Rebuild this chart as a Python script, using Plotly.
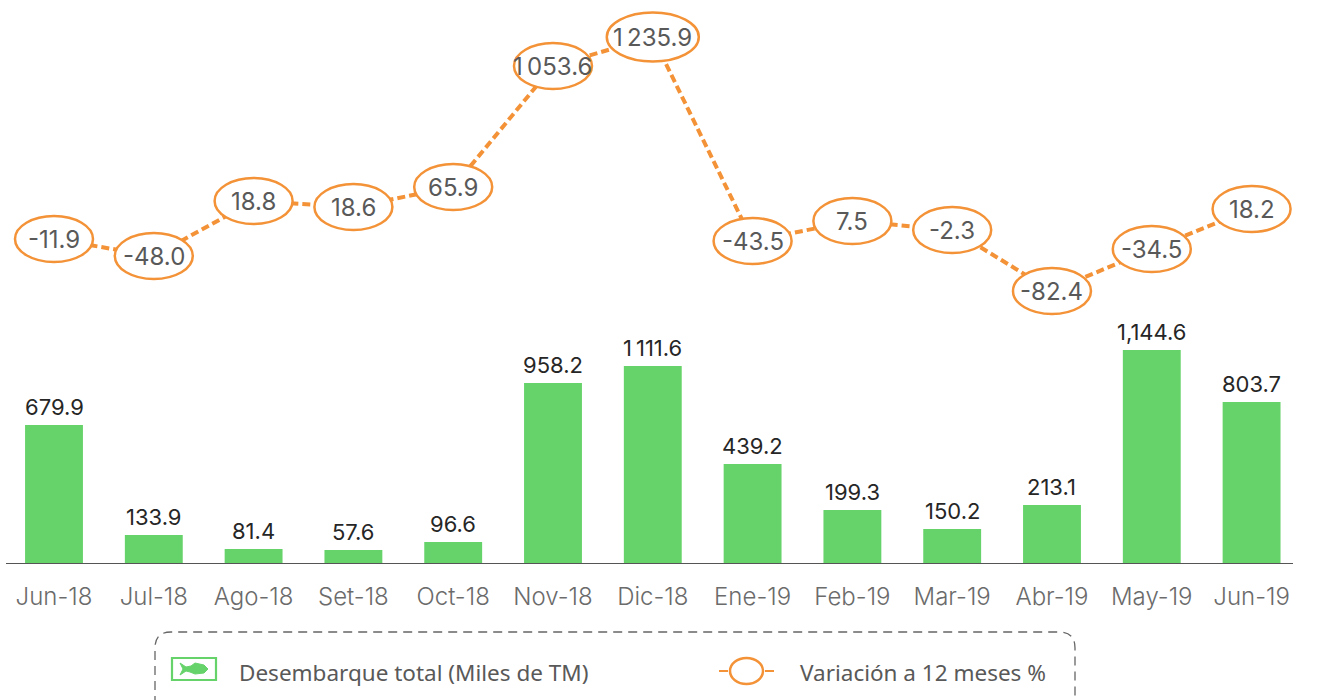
import plotly.graph_objects as go

categories = ["Jun-18", "Jul-18", "Ago-18", "Set-18", "Oct-18", "Nov-18", "Dic-18",
              "Ene-19", "Feb-19", "Mar-19", "Abr-19", "May-19", "Jun-19"]
bar_labels = ["679.9", "133.9", "81.4", "57.6", "96.6", "958.2", "1\u2009111.6",
              "439.2", "199.3", "150.2", "213.1", "1,144.6", "803.7"]
# Bar heights and line levels as drawn in the picture (the drawing is not to scale with its labels)
bar_heights = [138, 28, 14, 13, 21, 180, 197, 99, 53, 34, 58, 213, 161]
line_labels = ["-11.9", "-48.0", "18.8", "18.6", "65.9", "1\u2009053.6", "1\u2009235.9",
               "-43.5", "7.5", "-2.3", "-82.4", "-34.5", "18.2"]
line_levels = [324, 307, 362, 356, 376, 497, 526, 322, 342, 333, 272, 314, 354]

GREEN = "#66D36A"
ORANGE = "#F39237"
GREY = "#595959"
FONT = "Inter"
W, H = 1317, 700
L, R, T, B = 6, 24, 0, 137
PW, PH = W - L - R, H - T - B


def px(x):
    return (x - L) / PW


def py(y):
    return (H - B - y) / PH


fig = go.Figure()
fig.add_bar(x=categories, y=bar_heights, name="Desembarque total (Miles de TM)",
            marker=dict(color=GREEN, line_width=0), width=0.58)
fig.add_scatter(x=categories, y=line_levels, mode="lines", name="Variación a 12 meses %",
                line=dict(color=ORANGE, width=4, dash="8px,4px"))

shapes = []
annotations = []
for c, h, lab in zip(categories, bar_heights, bar_labels):
    annotations.append(dict(x=c, y=h, xref="x", yref="y", text=lab, showarrow=False,
                            yanchor="bottom", yshift=3,
                            font=dict(family=FONT, size=22, color="#262626", weight=400)))
for c, lv, lab in zip(categories, line_levels, line_labels):
    half_w, half_h = (46, 24.5) if lab == line_labels[6] else (39, 23)
    shapes.append(dict(type="circle", xref="x", yref="y", xsizemode="pixel", ysizemode="pixel",
                       xanchor=c, yanchor=lv, x0=-half_w, x1=half_w, y0=-half_h, y1=half_h,
                       fillcolor="white", line=dict(color=ORANGE, width=2.5), layer="above"))
    annotations.append(dict(x=c, y=lv, xref="x", yref="y", text=lab, showarrow=False,
                            font=dict(family=FONT, size=24, color=GREY)))

# legend frame, cut by the bottom of the picture
x0, x1, y0, y1, r = px(155), px(1075), py(632), py(720), 16
rx, ry = r / PW, r / PH
shapes.append(dict(type="path", xref="paper", yref="paper",
                   path=f"M {x0} {y1} L {x0} {y0-ry} Q {x0} {y0} {x0+rx} {y0} L {x1-rx} {y0} "
                        f"Q {x1} {y0} {x1} {y0-ry} L {x1} {y1}",
                   line=dict(color="#666666", width=1.3, dash="9px,6px")))
# legend icons
shapes.append(dict(type="rect", xref="paper", yref="paper", x0=px(172), x1=px(216), y0=py(658), y1=py(680),
                   line=dict(color=GREEN, width=2.2)))
fish = [(180, 663), (186, 667), (191, 666), (195, 663), (204, 665), (208, 669), (204, 673),
        (195, 674), (190, 672), (186, 671), (180, 675), (183, 669)]
shapes.append(dict(type="path", xref="paper", yref="paper",
                   path="M " + " L ".join(f"{px(a)} {py(b)}" for a, b in fish) + " Z",
                   fillcolor=GREEN, line=dict(color=GREEN, width=1)))
for a, b in ((719, 728), (765, 774)):
    shapes.append(dict(type="line", xref="paper", yref="paper", x0=px(a), x1=px(b), y0=py(671), y1=py(671),
                       line=dict(color=ORANGE, width=2)))
shapes.append(dict(type="circle", xref="paper", yref="paper", x0=px(730), x1=px(763), y0=py(658), y1=py(684),
                   fillcolor="white", line=dict(color=ORANGE, width=2.5)))
for text, xp in (("Desembarque total (Miles de TM)", 237), ("Variación a 12 meses %", 798)):
    annotations.append(dict(x=px(xp), y=py(672), xref="paper", yref="paper", text=text, showarrow=False,
                            xanchor="left", yanchor="middle",
                            font=dict(family="Noto Sans", size=22.5, color=GREY)))

fig.update_layout(width=W, height=H, margin=dict(l=L, r=R, t=T, b=B, pad=0),
                  plot_bgcolor="white", paper_bgcolor="white", showlegend=False,
                  shapes=shapes, annotations=annotations, font=dict(family=FONT))
fig.update_xaxes(type="category", categoryorder="array", categoryarray=categories,
                 range=[-0.481, 12.415], showgrid=False, zeroline=False, showline=True,
                 linecolor="#555555", linewidth=1, ticks="", ticklabelstandoff=12,
                 tickfont=dict(family=FONT, size=24, color="#6b6b6b", weight=300))
fig.update_yaxes(range=[0, PH], visible=False, showgrid=False, zeroline=False)
fig.write_html("out.html", post_script="document.body.style.margin='0';",
               config=dict(displayModeBar=False))
